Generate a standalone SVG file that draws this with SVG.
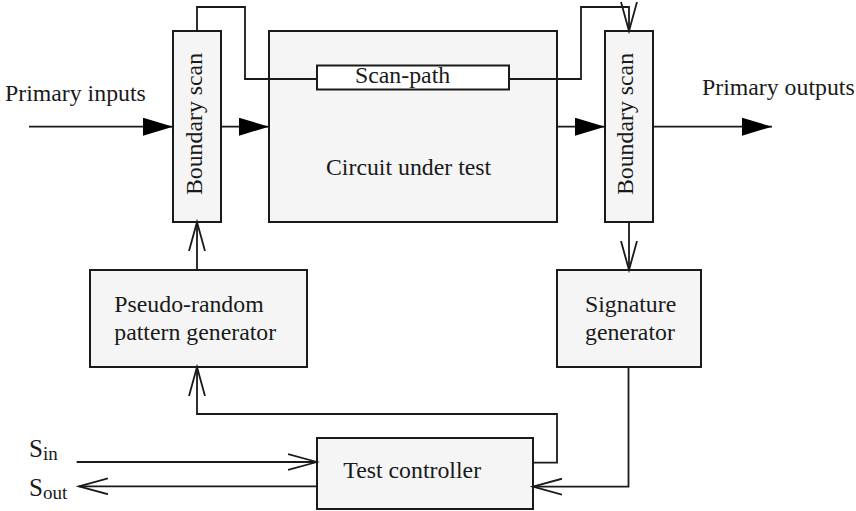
<svg xmlns="http://www.w3.org/2000/svg" width="856" height="511" viewBox="0 0 856 511">
  <style>
    .box { fill: #f5f5f5; stroke: #1a1a1a; stroke-width: 2; }
    .inner { fill: #ffffff; stroke: #1a1a1a; stroke-width: 2; }
    .wire { fill: none; stroke: #1a1a1a; stroke-width: 1.8; }
    .lbl { font-family: "Liberation Serif", "Times New Roman", serif; font-size: 23.8px; fill: #1a1a1a; }
    .sig { font-family: "Liberation Serif", "Times New Roman", serif; font-size: 25px; fill: #1a1a1a; }
    .sub { font-size: 19px; }
  </style>
  <defs>
    <marker id="solid" markerUnits="userSpaceOnUse" markerWidth="32" markerHeight="20" refX="30" refY="9" orient="auto">
      <path d="M0,0 L30,9 L0,18 z" fill="#000"/>
    </marker>
    <marker id="open" markerUnits="userSpaceOnUse" markerWidth="32" markerHeight="20" refX="29" refY="9" orient="auto">
      <path d="M0,1 L29,9 L0,17" fill="none" stroke="#1a1a1a" stroke-width="1.8"/>
    </marker>
  </defs>

  <!-- blocks -->
  <g id="bs-left">
    <rect class="box" x="173" y="31" width="48" height="191"/>
    <text class="lbl" text-anchor="middle" transform="translate(201.5,124) rotate(-90)">Boundary scan</text>
  </g>
  <g id="cut">
    <rect class="box" x="269" y="31" width="288" height="191"/>
    <text class="lbl" x="326" y="175">Circuit under test</text>
  </g>
  <g id="scan-path">
    <rect class="inner" x="317" y="65.5" width="192" height="24"/>
    <text class="lbl" x="355" y="83.3">Scan-path</text>
  </g>
  <g id="bs-right">
    <rect class="box" x="605" y="31" width="48" height="191"/>
    <text class="lbl" text-anchor="middle" transform="translate(632.5,124) rotate(-90)">Boundary scan</text>
  </g>
  <g id="prpg">
    <rect class="box" x="90" y="270" width="217" height="97"/>
    <text class="lbl" x="114.3" y="311.7">Pseudo-random</text>
    <text class="lbl" x="114.3" y="340">pattern generator</text>
  </g>
  <g id="siggen">
    <rect class="box" x="557" y="270" width="144" height="97"/>
    <text class="lbl" x="585" y="311.7">Signature</text>
    <text class="lbl" x="585" y="340">generator</text>
  </g>
  <g id="controller">
    <rect class="box" x="317" y="438" width="216" height="71"/>
    <text class="lbl" x="343.3" y="478.3">Test controller</text>
  </g>

  <!-- free labels -->
  <g id="labels">
    <text class="lbl" x="5" y="100.5">Primary inputs</text>
    <text class="lbl" x="702" y="95">Primary outputs</text>
    <text class="sig" x="29" y="456.5">S<tspan class="sub" y="459.5">in</tspan></text>
    <text class="sig" x="29" y="495.5">S<tspan class="sub" y="498.5">out</tspan></text>
  </g>

  <!-- connectors -->
  <g id="connectors">
    <path class="wire" d="M29,126.7 H173" marker-end="url(#solid)"/>
    <path class="wire" d="M221,126.7 H269" marker-end="url(#solid)"/>
    <path class="wire" d="M557,126.7 H605" marker-end="url(#solid)"/>
    <path class="wire" d="M653,126.7 H772" marker-end="url(#solid)"/>
    <path class="wire" d="M197,31 V7 H245 V79 H317"/>
    <path class="wire" d="M509,79 H581 V7 H629 V31" marker-end="url(#open)"/>
    <path class="wire" d="M197,270 V222" marker-end="url(#open)"/>
    <path class="wire" d="M629,222 V270" marker-end="url(#open)"/>
    <path class="wire" d="M533,462.7 H557 V414 H197 V367" marker-end="url(#open)"/>
    <path class="wire" d="M628.5,367 V486.7 H533" marker-end="url(#open)"/>
    <path class="wire" d="M76.7,462 H317" marker-end="url(#open)"/>
    <path class="wire" d="M317,486.3 H79" marker-end="url(#open)"/>
  </g>
</svg>
